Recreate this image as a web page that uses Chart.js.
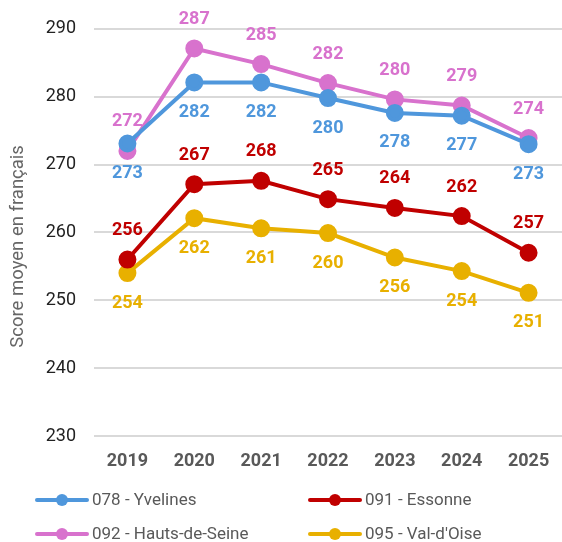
<!DOCTYPE html>
<html>
<head>
<meta charset="utf-8">
<script src="https://cdn.jsdelivr.net/npm/chart.js@4/dist/chart.umd.min.js"></script>
<style>
  body { margin: 0; background: #fff; }
  #wrap { width: 562px; height: 542px; }
</style>
</head>
<body>
<div id="wrap"><canvas id="scoreChart"></canvas></div>
<script>
const years = ["2019", "2020", "2021", "2022", "2023", "2024", "2025"];
const yvelines = [273.1, 282.1, 282.1, 279.8, 277.6, 277.2, 273.0];
const essonne = [256.0, 267.1, 267.6, 264.9, 263.6, 262.4, 257.0];
const hautsDeSeine = [272.0, 287.1, 284.8, 282.0, 279.6, 278.7, 273.9];
const valDOise = [254.0, 262.1, 260.6, 259.9, 256.3, 254.3, 251.1];
const yTitle = "Score moyen en français";

const FONT = "Roboto";
const ctx = document.getElementById("scoreChart").getContext("2d");

function serie(label, data, color, labelPos) {
  return {
    label: label,
    data: data,
    borderColor: color,
    backgroundColor: color,
    pointBackgroundColor: color,
    pointBorderColor: color,
    borderWidth: 4,
    pointRadius: 7,
    pointHoverRadius: 7,
    tension: 0,
    labelPos: labelPos
  };
}

// étiquettes de valeurs (pas de plugin datalabels dispo)
const valueLabels = {
  id: "valueLabels",
  afterDatasetsDraw(chart) {
    const c = chart.ctx;
    c.save();
    c.font = `bold 18px ${FONT}`;
    c.textAlign = "center";
    c.textBaseline = "middle";
    chart.data.datasets.forEach((ds, i) => {
      const meta = chart.getDatasetMeta(i);
      c.fillStyle = ds.borderColor;
      meta.data.forEach((pt, j) => {
        const dy = ds.labelPos === "above" ? -29 : 30;
        c.fillText(String(Math.round(ds.data[j])), pt.x, pt.y + dy);
      });
    });
    c.restore();
  }
};

// titre de l'axe y, un peu plus bas que le centre de la zone
const axisTitle = {
  id: "axisTitle",
  afterDraw(chart) {
    const c = chart.ctx;
    const a = chart.chartArea;
    c.save();
    c.translate(18.5, (a.top + a.bottom) / 2 + 14);
    c.rotate(-Math.PI / 2);
    c.font = `18.5px ${FONT}`;
    c.fillStyle = "#666";
    c.textAlign = "center";
    c.textBaseline = "middle";
    c.fillText(yTitle, 0, 0);
    c.restore();
  }
};

// légende sur deux colonnes
const twoColLegend = {
  id: "twoColLegend",
  afterDraw(chart) {
    const c = chart.ctx;
    const cols = [37, 310];
    const rows = [500, 534];
    c.save();
    c.font = `17px ${FONT}`;
    c.textBaseline = "middle";
    c.textAlign = "left";
    chart.data.datasets.forEach((ds, k) => {
      const x = cols[k % 2];
      const y = rows[Math.floor(k / 2)];
      c.strokeStyle = ds.borderColor;
      c.lineWidth = 4;
      c.lineCap = "round";
      c.beginPath();
      c.moveTo(x, y);
      c.lineTo(x + 50, y);
      c.stroke();
      c.fillStyle = ds.borderColor;
      c.beginPath();
      c.arc(x + 25, y, 6, 0, Math.PI * 2);
      c.fill();
      c.fillStyle = "#595959";
      c.fillText(ds.label, x + 55, y + 1);
    });
    c.restore();
  }
};

new Chart(ctx, {
  type: "line",
  data: {
    labels: years,
    datasets: [
      serie("078 - Yvelines", yvelines, "#4f97dc", "below"),
      serie("091 - Essonne", essonne, "#c00000", "above"),
      serie("092 - Hauts-de-Seine", hautsDeSeine, "#d872cd", "above"),
      serie("095 - Val-d'Oise", valDOise, "#e8b000", "below")
    ]
  },
  options: {
    responsive: true,
    maintainAspectRatio: false,
    animation: false,
    layout: { autoPadding: false, padding: { top: 27, left: 0, right: 0, bottom: 60 } },
    plugins: {
      legend: { display: false },
      tooltip: { enabled: false }
    },
    scales: {
      x: {
        offset: true,
        grid: { display: false },
        border: { display: false },
        ticks: { color: "#595959", padding: 7, font: { family: FONT, size: 18, weight: "bold" } },
        afterFit(scale) {
          scale.height = 46;
          scale.paddingLeft = 0;
          scale.paddingRight = 0;
        }
      },
      y: {
        min: 230,
        max: 290,
        ticks: { stepSize: 10, color: "#222", padding: 18, font: { family: FONT, size: 18 } },
        grid: { color: "#d9d9d9", lineWidth: 2, drawTicks: false },
        border: { display: false },
        afterFit(scale) { scale.width = 94; }
      }
    }
  },
  plugins: [valueLabels, axisTitle, twoColLegend]
});
</script>
</body>
</html>
